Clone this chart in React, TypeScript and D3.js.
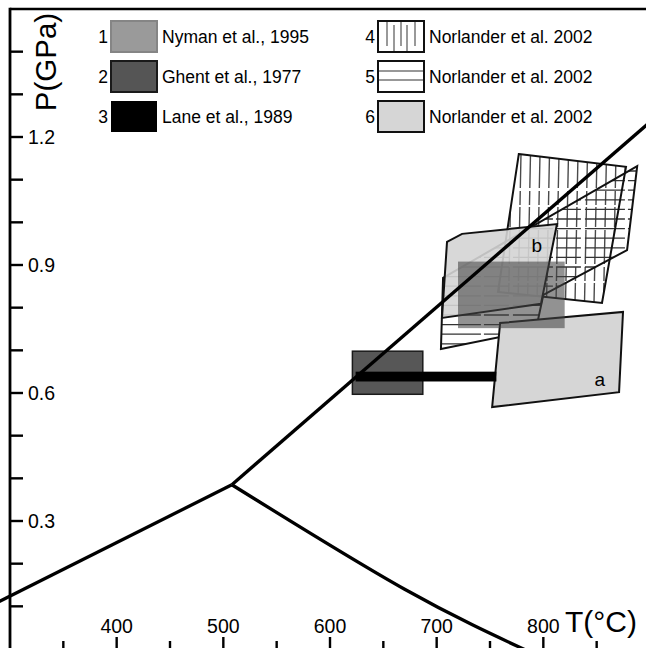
import React, { useEffect, useRef } from "react";
import * as d3 from "d3";

// axis ticks
const tempTicks = [400, 500, 600, 700, 800];
const tempMinor = [350, 450, 550, 650, 750, 850];
const pressTicks = [0.3, 0.6, 0.9, 1.2];
const pressMinor = [0.1, 0.2, 0.4, 0.5, 0.7, 0.8, 1.0, 1.1, 1.3, 1.4];

// Al2SiO5 phase boundaries [T, P]
const andKy = [[285, 0.105], [508, 0.385]];
const kySil = [[508, 0.385], [900, 1.235]];
const andSil = [[508, 0.385], [670, 0.14], [790, -0.01]];

// boxes [Tmin, Tmax], [Pmin, Pmax]
const nymanT = [720, 820];
const nymanP = [0.752, 0.908];
const ghentT = [621, 687];
const ghentP = [0.597, 0.698];
const laneT = [624, 756];
const laneP = [0.627, 0.65];

// Norlander et al. 2002 fields [T, P]
const field4 = [[777, 1.16], [877.5, 1.13], [855, 0.811], [757.5, 0.837]];
const field5 = [[888, 1.132], [878.5, 0.935], [800, 0.83], [793, 0.748], [704, 0.703], [706, 0.87]];
const fieldA = [[752, 0.567], [759.5, 0.764], [874.7, 0.79], [871, 0.602]];
const fieldB = [[709.7, 0.954], [723.8, 0.973], [812.8, 0.996], [797.8, 0.809], [705, 0.776]];
const fieldLabels = [["a", 853, 0.617], ["b", 793.8, 0.93]];

const legendIds = ["1", "2", "3", "4", "5", "6"];
const legendLabels = [
    "Nyman et al., 1995",
    "Ghent et al., 1977",
    "Lane et al., 1989",
    "Norlander et al. 2002",
    "Norlander et al. 2002",
    "Norlander et al. 2002",
];

const FONT = "'Liberation Sans', Arial, sans-serif";

const App = () => {
    const svgRef = useRef(null);

    useEffect(() => {
        const width = 646;
        const height = 648;

        const x = d3.scaleLinear().domain([300, 900]).range([10, 650]);
        const y = d3.scaleLinear().domain([0, 1.5]).range([649, 9]);

        const svg = d3.select(svgRef.current);
        svg.selectAll("*").remove();
        svg.attr("width", width).attr("height", height);

        const line = d3.line().x((d) => x(d[0])).y((d) => y(d[1]));
        const poly = (pts) => line(pts) + "Z";

        const defs = svg.append("defs");
        [["clip4", field4], ["clip5", field5]].forEach(([id, pts]) => {
            defs.append("clipPath").attr("id", id).append("path").attr("d", poly(pts));
        });

        // hatch lines clipped to a field
        const hatch = (id, pts, dir, step, color, dash) => {
            const px = pts.map((p) => [x(p[0]), y(p[1])]);
            const [x0, x1] = d3.extent(px, (d) => d[0]);
            const [y0, y1] = d3.extent(px, (d) => d[1]);
            const g = svg.append("g").attr("clip-path", `url(#${id})`);
            if (dir === "v") {
                for (let xx = x0 + 4; xx < x1; xx += step) {
                    g.append("line")
                        .attr("x1", xx).attr("x2", xx - 3)
                        .attr("y1", y0).attr("y2", y1)
                        .attr("stroke", color).attr("stroke-width", 1.4)
                        .attr("stroke-dasharray", dash);
                }
            } else {
                for (let yy = y0 + 5; yy < y1; yy += step) {
                    g.append("line")
                        .attr("x1", x0).attr("x2", x1)
                        .attr("y1", yy).attr("y2", yy)
                        .attr("stroke", color).attr("stroke-width", 1.3)
                        .attr("stroke-dasharray", dash);
                }
            }
        };

        // field 4 and 5 (hatched)
        svg.append("path").attr("d", poly(field4)).attr("fill", "white");
        svg.append("path").attr("d", poly(field5)).attr("fill", "white");
        hatch("clip4", field4, "v", 9.5, "#4a4a4a", "34,3,14,2,20,3");
        hatch("clip5", field5, "h", 9.6, "#333", "40,3,25,4");
        svg.append("path").attr("d", poly(field4))
            .attr("fill", "none").attr("stroke", "#111").attr("stroke-width", 2);
        svg.append("path").attr("d", poly(field5))
            .attr("fill", "none").attr("stroke", "#111").attr("stroke-width", 2);

        // field a and b (light gray)
        svg.append("path").attr("d", poly(fieldA))
            .attr("fill", "#d6d6d6").attr("stroke", "#111").attr("stroke-width", 2);
        svg.append("path").attr("d", poly(fieldB))
            .attr("fill", "#d4d4d4").attr("fill-opacity", 0.9)
            .attr("stroke", "#111").attr("stroke-width", 2);

        // Nyman box
        svg.append("rect")
            .attr("x", x(nymanT[0])).attr("y", y(nymanP[1]))
            .attr("width", x(nymanT[1]) - x(nymanT[0]))
            .attr("height", y(nymanP[0]) - y(nymanP[1]))
            .attr("fill", "#444").attr("fill-opacity", 0.58);

        // Ghent box
        svg.append("rect")
            .attr("x", x(ghentT[0])).attr("y", y(ghentP[1]))
            .attr("width", x(ghentT[1]) - x(ghentT[0]))
            .attr("height", y(ghentP[0]) - y(ghentP[1]))
            .attr("fill", "#575757").attr("stroke", "#1a1a1a").attr("stroke-width", 1.5);

        // Lane bar
        svg.append("rect")
            .attr("x", x(laneT[0])).attr("y", y(laneP[1]))
            .attr("width", x(laneT[1]) - x(laneT[0]))
            .attr("height", y(laneP[0]) - y(laneP[1]))
            .attr("fill", "#000");

        // phase boundaries
        [andKy, kySil].forEach((pts) => {
            svg.append("path").attr("d", line(pts))
                .attr("fill", "none").attr("stroke", "#000").attr("stroke-width", 3.3);
        });
        const curved = d3.line().x((d) => x(d[0])).y((d) => y(d[1])).curve(d3.curveNatural);
        svg.append("path").attr("d", curved(andSil))
            .attr("fill", "none").attr("stroke", "#000").attr("stroke-width", 3.3);

        fieldLabels.forEach(([t, tx, ty]) => {
            svg.append("text")
                .attr("x", x(tx)).attr("y", y(ty))
                .attr("text-anchor", "middle")
                .style("font-family", FONT).style("font-size", "19px")
                .text(t);
        });

        // frame
        svg.append("line")
            .attr("x1", x(300)).attr("x2", x(900))
            .attr("y1", y(1.5)).attr("y2", y(1.5))
            .attr("stroke", "#000").attr("stroke-width", 2.6);
        svg.append("line")
            .attr("x1", x(300)).attr("x2", x(300))
            .attr("y1", y(1.5) - 1.3).attr("y2", height + 4)
            .attr("stroke", "#000").attr("stroke-width", 2.8);

        // y ticks
        pressTicks.concat(pressMinor).forEach((p) => {
            svg.append("line")
                .attr("x1", x(300)).attr("x2", x(300) + 13)
                .attr("y1", y(p)).attr("y2", y(p))
                .attr("stroke", "#000").attr("stroke-width", 2.4);
        });
        pressTicks.forEach((p) => {
            svg.append("text")
                .attr("x", 28).attr("y", y(p)).attr("dy", "0.36em")
                .style("font-family", FONT).style("font-size", "19.5px")
                .text(d3.format(".1f")(p));
        });

        // x ticks
        const base = 652;
        tempTicks.forEach((t) => {
            svg.append("line")
                .attr("x1", x(t)).attr("x2", x(t))
                .attr("y1", base).attr("y2", 637)
                .attr("stroke", "#000").attr("stroke-width", 2.4);
            svg.append("text")
                .attr("x", x(t)).attr("y", 633)
                .attr("text-anchor", "middle")
                .style("font-family", FONT).style("font-size", "19.5px")
                .text(t);
        });
        tempMinor.forEach((t) => {
            svg.append("line")
                .attr("x1", x(t)).attr("x2", x(t))
                .attr("y1", base).attr("y2", 641)
                .attr("stroke", "#000").attr("stroke-width", 2.4);
        });

        // axis titles
        svg.append("text")
            .attr("x", 565).attr("y", 632)
            .style("font-family", FONT).style("font-size", "30px")
            .text("T(°C)");
        svg.append("text")
            .attr("transform", "translate(56, 62) rotate(-90)")
            .attr("text-anchor", "middle")
            .style("font-family", FONT).style("font-size", "29.5px")
            .text("P(GPa)");

        // legend
        const legend = svg.append("g");
        legendIds.forEach((id, i) => {
            const col = i < 3 ? 0 : 1;
            const row = i % 3;
            const sx = col === 0 ? 111 : 378;
            const sy = 21 + row * 40;
            const g = legend.append("g").attr("transform", `translate(${sx}, ${sy})`);
            g.append("text")
                .attr("x", -3).attr("y", 22)
                .attr("text-anchor", "end")
                .style("font-family", FONT).style("font-size", "17.5px")
                .text(id);
            const sw = g.append("rect").attr("width", 46).attr("height", 31);
            if (i === 0) sw.attr("fill", "#9a9a9a").attr("stroke", "#858585").attr("stroke-width", 2);
            if (i === 1) sw.attr("fill", "#555").attr("stroke", "#1a1a1a").attr("stroke-width", 2);
            if (i === 2) sw.attr("fill", "#000");
            if (i === 3) {
                sw.attr("fill", "white");
                [9, 16, 23, 29, 37].forEach((lx, k) => {
                    g.append("line")
                        .attr("x1", lx).attr("x2", lx)
                        .attr("y1", k % 2 ? 4 : 1).attr("y2", k % 2 ? 30 : 25)
                        .attr("stroke", "#555").attr("stroke-width", 1.2);
                });
                sw.raise().attr("fill", "none").attr("stroke", "#111").attr("stroke-width", 2);
            }
            if (i === 4) {
                sw.attr("fill", "white");
                [10, 19].forEach((ly) => {
                    g.append("line")
                        .attr("x1", 1).attr("x2", 45)
                        .attr("y1", ly).attr("y2", ly)
                        .attr("stroke", "#333").attr("stroke-width", 1.2);
                });
                sw.raise().attr("fill", "none").attr("stroke", "#111").attr("stroke-width", 2);
            }
            if (i === 5) sw.attr("fill", "#d6d6d6").attr("stroke", "#111").attr("stroke-width", 2);
            g.append("text")
                .attr("x", 51).attr("y", 22)
                .style("font-family", FONT).style("font-size", "17.5px")
                .text(legendLabels[i]);
        });
    }, []);

    return (
        <div>
            <style>{`body{margin:0}`}</style>
            <svg ref={svgRef} style={{ display: "block" }}></svg>
        </div>
    );
};

export default App;
